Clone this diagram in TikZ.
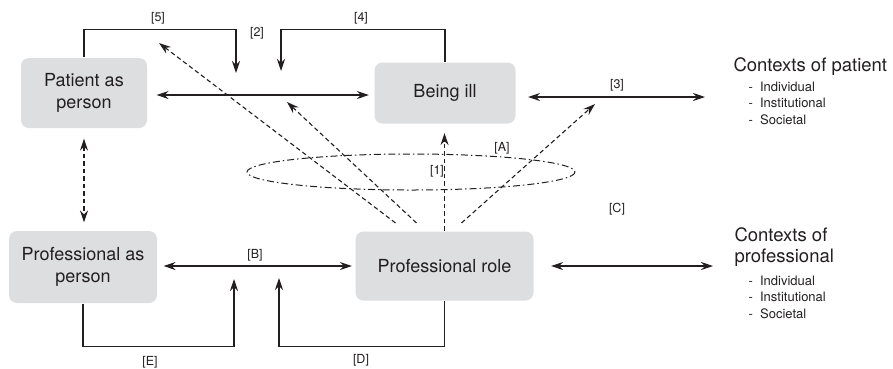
\documentclass[tikz,border=0pt]{standalone}
\usepackage{fontspec}
\setmainfont{TeX Gyre Heros}
\usetikzlibrary{arrows.meta}
\definecolor{boxgray}{RGB}{221,222,224}
\definecolor{ink}{RGB}{35,31,32}

\begin{document}
\begin{tikzpicture}[x=1pt,y=-1pt,line width=1.1pt,draw=ink,
    blk/.style={fill=boxgray,draw=none,rounded corners=8pt,align=center,inner sep=0pt,
      text=ink,font=\fontsize{18}{22}\selectfont},
    tag/.style={inner sep=0pt,text=ink,font=\fontsize{12.5}{14}\selectfont},
    ctx/.style={anchor=base west,inner sep=0pt,text=ink,align=left,font=\fontsize{18.5}{21}\selectfont},
    lst/.style={anchor=base west,inner sep=0pt,text=ink,align=left,font=\fontsize{13}{16.5}\selectfont},
    arr/.style={-{Stealth[length=12pt,width=8pt,inset=4pt]}},
    dbl/.style={{Stealth[length=12pt,width=8pt,inset=4pt]}-{Stealth[length=12pt,width=8pt,inset=4pt]}},
    dsh/.style={dash pattern=on 4.5pt off 3pt},
    dshdot/.style={dash pattern=on 7pt off 3pt on 1.5pt off 3pt}]
  \useasboundingbox (0,0) rectangle (893,368);

  % boxes
  \node[blk,minimum width=126pt,minimum height=70pt] (pat) at (84,93) {Patient as\\person};
  \node[blk,minimum width=141pt,minimum height=61pt] (ill) at (445,93) {Being ill};
  \node[blk,minimum width=148pt,minimum height=72pt] (pas) at (83,267) {Professional as\\person};
  \node[blk,minimum width=178pt,minimum height=69pt] (role) at (444.5,266) {Professional role};

  % contexts (base = last line)
  \node[ctx] (ctxp) at (733,71) {Contexts of patient};
  \node[lst] (lstp) at (748,124) {-~~Individual\\-~~Institutional\\-~~Societal};
  \node[ctx] (ctxr) at (734,262) {Contexts of\\professional};
  \node[lst] (lstr) at (748,318) {-~~Individual\\-~~Institutional\\-~~Societal};

  % labels
  \node[tag] (l5) at (158,18.5) {[5]};
  \node[tag] (l4) at (361,18.5) {[4]};
  \node[tag] (l2) at (257,33) {[2]};
  \node[tag] (l3) at (617,85) {[3]};
  \node[tag] (lA) at (502,148) {[A]};
  \node[tag] (l1) at (437,171) {[1]};
  \node[tag] (lC) at (617,209) {[C]};
  \node[tag] (lB) at (255,255) {[B]};
  \node[tag] (lE) at (150,362) {[E]};
  \node[tag] (lD) at (361,360) {[D]};

  % free ends
  \coordinate (t5) at (236,73);
  \coordinate (t4) at (281,71);
  \coordinate (tE) at (234,279);
  \coordinate (tD) at (279,278);
  \coordinate (p3) at (705,97);
  \coordinate (pC) at (713,266);
  \coordinate (d5) at (159,43);
  \coordinate (d0) at (287,102);
  \coordinate (d3) at (595,104);

  % solid connectors
  \draw[dbl,shorten <=9pt,shorten >=5pt] ([yshift=-2pt]pat.east) -- ([yshift=-2pt]ill.west);
  \draw[dbl,shorten <=12pt] ([yshift=-4pt]ill.east) -- (p3);
  \draw[dbl,shorten <=6pt,shorten >=3pt] ([yshift=1pt]pas.east) -- ([yshift=1pt]pas.east -| role.west);
  \draw[dbl,shorten <=17pt] (role.east) -- (role.east -| pC);
  \draw[arr] (pat.north) -- ++(0,-28) -| (t5);
  \draw[arr] (ill.north) -- ++(0,-32.5) -| (t4);
  \draw[arr] (pas.south) -- ++(0,43) -| (tE);
  \draw[arr] (role.south) -- ++(0,45.5) -| (tD);

  % dashed connectors
  \draw[dbl,dsh,shorten <=10pt,shorten >=8pt] (pat.south) -- (pat.south |- pas.north);
  \draw[arr,dsh] ([shift={(-49,-8)}]role.north) -- (d5);
  \draw[arr,dsh] ([shift={(-28,-8)}]role.north) -- (d0);
  \draw[arr,dsh] ([shift={(17,-8)}]role.north) -- (d3);
  \draw[arr,dsh,shorten >=9pt] (role.north) -- (role.north |- ill.south);

  \draw[dshdot,line width=1pt] (411,172) ellipse [x radius=164, y radius=18];
\end{tikzpicture}
\end{document}
